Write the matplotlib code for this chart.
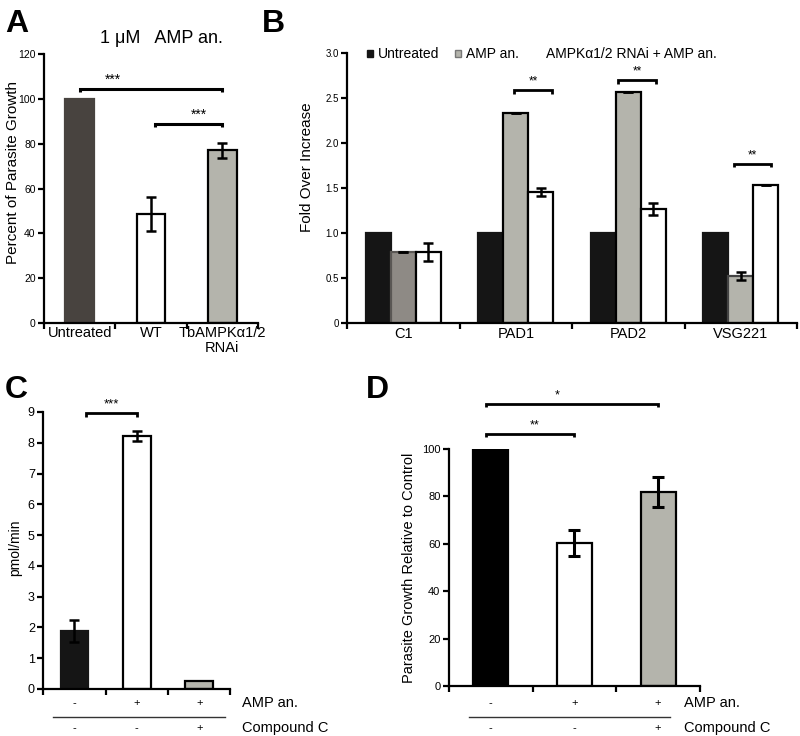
import matplotlib
matplotlib.use('Agg')
import matplotlib.pyplot as plt
import numpy as np
from matplotlib.patches import Patch
from matplotlib.transforms import blended_transform_factory

plt.rcParams['font.family'] = ['Liberation Sans', 'DejaVu Sans']

# ---------------- data ----------------
# Panel A
a_categories = ['Untreated', 'WT', 'TbAMPKα1/2\nRNAi']
a_values = [100, 48.5, 77]
a_errors = [0, 7.5, 3.2]
a_title = '1 μM   AMP an.'

# Panel B
b_genes = ['C1', 'PAD1', 'PAD2', 'VSG221']
b_series = ['Untreated', 'AMP an.', 'AMPKα1/2 RNAi + AMP an.']
b_untreated = [1.0, 1.0, 1.0, 1.0]
b_amp = [0.79, 2.33, 2.57, 0.52]
b_amp_err = [0.0, 0.0, 0.0, 0.045]
b_rnai = [0.785, 1.46, 1.27, 1.53]
b_rnai_err = [0.10, 0.045, 0.065, 0.0]

# Panel C
c_values = [1.88, 8.22, 0.27]
c_errors = [0.37, 0.15, 0.0]
c_amp = ['-', '+', '+']
c_compound = ['-', '-', '+']

# Panel D
d_values = [100, 60.3, 82]
d_errors = [0, 5.5, 6.3]
d_amp = ['-', '+', '+']
d_compound = ['-', '-', '+']

# ---------------- helpers ----------------
LW = 1.6


def style(ax, n, ticksize):
    for s in ['top', 'right']:
        ax.spines[s].set_visible(False)
    for s in ['left', 'bottom']:
        ax.spines[s].set_linewidth(LW)
    ax.set_xlim(-0.5, n - 0.5)
    ax.set_xticks(np.arange(-0.5, n, 1.0))
    ax.set_xticklabels([''] * (n + 1))
    ax.tick_params(axis='both', which='major', width=LW, length=4,
                   direction='out', labelsize=ticksize, pad=2)


def bracket(ax, x1, x2, y, h, lw=2.2):
    ax.plot([x1, x1, x2, x2], [y - h, y, y, y - h], color='black', lw=lw,
            clip_on=False, solid_capstyle='butt', solid_joinstyle='miter')


fig = plt.figure(figsize=(8, 7.36), dpi=100)

# ---------------- Panel A ----------------
axA = fig.add_axes([0.055, 0.5611, 0.2675, 0.3655])
xa = np.arange(len(a_values))
a_colors = ['#48433f', '#ffffff', '#b4b4ac']
a_edges = ['#48433f', 'black', 'black']
axA.bar(xa, a_values, width=0.4, color=a_colors, edgecolor=a_edges, linewidth=LW, zorder=2)
axA.errorbar(xa[1:], a_values[1:], yerr=a_errors[1:], fmt='none', ecolor='black',
             elinewidth=1.8, capsize=3.5, capthick=1.8, zorder=3)
style(axA, 3, 7.5)
axA.set_ylim(0, 120)
axA.set_yticks(np.arange(0, 121, 20))
axA.set_xticks(xa, minor=True)
axA.set_xticklabels(a_categories, minor=True, fontsize=10.5, linespacing=1.15)
axA.tick_params(axis='x', which='minor', length=0, pad=2)
axA.set_ylabel('Percent of Parasite Growth', fontsize=11)
axA.yaxis.set_label_coords(-0.112, 0.56)
axA.set_title(a_title, fontsize=13, pad=8, x=0.55)
bracket(axA, 0, 2, 104.5, 1.5)
axA.text(0.47, 105.5, '***', ha='center', va='bottom', fontsize=10)
bracket(axA, 1.05, 2, 88.8, 1.5)
axA.text(1.67, 89.8, '***', ha='center', va='bottom', fontsize=10)

# ---------------- Panel B ----------------
axB = fig.add_axes([0.434, 0.5611, 0.5625, 0.3668])
xb = np.arange(len(b_genes))
bw = 0.222
b_amp_colors = ['#8e8a85', '#b4b4ac', '#b4b4ac', '#b4b4ac']
b_amp_edges = ['#5a5754', 'black', 'black', '#444444']
axB.bar(xb - bw, b_untreated, width=bw, color='#151515', edgecolor='#151515',
        linewidth=LW, zorder=2)
axB.bar(xb, b_amp, width=bw, color=b_amp_colors, edgecolor=b_amp_edges,
        linewidth=LW, zorder=2)
axB.bar(xb + bw, b_rnai, width=bw, color='white', edgecolor='black',
        linewidth=LW, zorder=2)
axB.errorbar(xb, b_amp, yerr=b_amp_err, fmt='none', ecolor='black',
             elinewidth=1.8, capsize=3.5, capthick=1.8, zorder=3)
axB.errorbar(xb + bw, b_rnai, yerr=b_rnai_err, fmt='none', ecolor='black',
             elinewidth=1.8, capsize=3.5, capthick=1.8, zorder=3)
style(axB, 4, 7)
axB.set_ylim(0, 3.0)
axB.set_yticks(np.arange(0, 3.01, 0.5))
axB.set_yticklabels(['0', '0.5', '1.0', '1.5', '2.0', '2.5', '3.0'])
axB.set_xticks(xb, minor=True)
axB.set_xticklabels(b_genes, minor=True, fontsize=10.5)
axB.tick_params(axis='x', which='minor', length=0, pad=3)
axB.set_ylabel('Fold Over Increase', fontsize=11)
axB.yaxis.set_label_coords(-0.073, 0.578)
handles = [Patch(facecolor='#151515', edgecolor='#151515'),
           Patch(facecolor='#b4b4ac', edgecolor='#777777'),
           Patch(facecolor='white', edgecolor='white')]
axB.legend(handles, b_series, ncol=3, loc='center left', bbox_to_anchor=(0.043, 0.995),
           frameon=False, handlelength=0.45, handleheight=0.45, handletextpad=0.35,
           columnspacing=1.15, fontsize=10, borderaxespad=0, borderpad=0)
b_brackets = [(1, 2.585), (2, 2.70), (3, 1.77)]
b_offsets = [0.04, -0.035, -0.01]
for (gi, yv), off in zip(b_brackets, b_offsets):
    mid = gi + bw / 2 + off
    bracket(axB, mid - 0.165, mid + 0.165, yv, 0.04, lw=2.0)
    axB.text(mid, yv + 0.03, '**', ha='center', va='bottom', fontsize=8.5)

# ---------------- Panel C ----------------
axC = fig.add_axes([0.054, 0.0639, 0.234, 0.3764])
xc = np.arange(len(c_values))
c_colors = ['#151515', 'white', '#b4b4ac']
c_edges = ['#151515', 'black', 'black']
axC.bar(xc, c_values, width=0.44, color=c_colors, edgecolor=c_edges, linewidth=LW, zorder=2)
axC.errorbar(xc[:2], c_values[:2], yerr=c_errors[:2], fmt='none', ecolor='black',
             elinewidth=1.8, capsize=3.5, capthick=1.8, zorder=3)
style(axC, 3, 9)
axC.set_ylim(0, 9)
axC.set_yticks(np.arange(0, 10, 1))
axC.set_ylabel('pmol/min', fontsize=10)
axC.yaxis.set_label_coords(-0.112, 0.51)
bracket(axC, 0.18, 1.0, 8.97, 0.12, lw=2.0)
axC.text(0.6, 9.05, '***', ha='center', va='bottom', fontsize=9.5)
trC = blended_transform_factory(axC.transData, axC.transAxes)
for i in range(3):
    axC.text(xc[i], -0.05, c_amp[i], transform=trC, ha='center', va='center', fontsize=8)
    axC.text(xc[i], -0.141, c_compound[i], transform=trC, ha='center', va='center', fontsize=8)
axC.text(1.06, -0.05, 'AMP an.', transform=axC.transAxes, ha='left', va='center', fontsize=10.5)
axC.text(1.06, -0.141, 'Compound C', transform=axC.transAxes, ha='left', va='center', fontsize=10.5)
axC.plot([0.053, 0.973], [-0.101, -0.101], transform=axC.transAxes, color='#333333',
         lw=1.0, clip_on=False)

# ---------------- Panel D ----------------
axD = fig.add_axes([0.561, 0.068, 0.314, 0.322])
xd = np.arange(len(d_values))
d_colors = ['black', 'white', '#b4b4ac']
axD.bar(xd, d_values, width=0.42, color=d_colors, edgecolor='black', linewidth=LW, zorder=2)
axD.errorbar(xd[1:], d_values[1:], yerr=d_errors[1:], fmt='none', ecolor='black',
             elinewidth=2.2, capsize=4.5, capthick=2.2, zorder=3)
style(axD, 3, 8)
axD.set_ylim(0, 100)
axD.set_yticks(np.arange(0, 101, 20))
axD.set_ylabel('Parasite Growth Relative to Control', fontsize=10.5)
axD.yaxis.set_label_coords(-0.131, 0.50)
bracket(axD, -0.05, 1.0, 106.3, 1.2, lw=2.0)
axD.text(0.53, 107.5, '**', ha='center', va='bottom', fontsize=9)
bracket(axD, -0.05, 2.0, 118.8, 1.2, lw=2.0)
axD.text(0.79, 120.0, '*', ha='center', va='bottom', fontsize=9)
trD = blended_transform_factory(axD.transData, axD.transAxes)
for i in range(3):
    axD.text(xd[i], -0.072, d_amp[i], transform=trD, ha='center', va='center', fontsize=8)
    axD.text(xd[i], -0.177, d_compound[i], transform=trD, ha='center', va='center', fontsize=8)
axD.text(0.935, -0.072, 'AMP an.', transform=axD.transAxes, ha='left', va='center', fontsize=10.5)
axD.text(0.935, -0.177, 'Compound C', transform=axD.transAxes, ha='left', va='center', fontsize=10.5)
axD.plot([0.08, 0.88], [-0.131, -0.131], transform=axD.transAxes, color='#333333',
         lw=1.0, clip_on=False)

# ---------------- panel letters ----------------
for lbl, x, y in [('A', 5, 32), ('B', 262, 32), ('C', 5, 398), ('D', 366, 398)]:
    fig.text(x / 800, 1 - y / 736, lbl, fontsize=23, fontweight='bold', ha='left', va='baseline')

fig.savefig('out.png', dpi=100)
